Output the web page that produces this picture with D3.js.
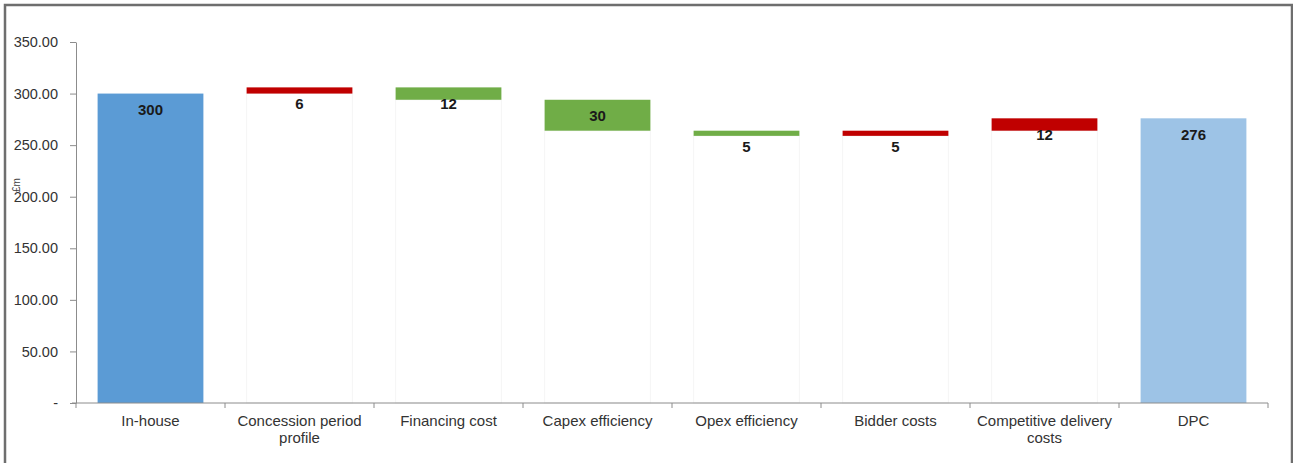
<!DOCTYPE html>
<html>
<head>
<meta charset="utf-8">
<script src="https://cdn.jsdelivr.net/npm/d3@7"></script>
<style>
  body { margin: 0; background: #fff; }
  svg { display: block; font-family: "Liberation Sans", Arial, sans-serif; }
  .eje path, .eje line { stroke: #8c8c8c; }
  .eje text { fill: #333; font-size: 14.5px; }
</style>
</head>
<body>
<div id="graf"></div>
<script>
// datos
categorias = ['In-house', 'Concession period profile', 'Financing cost', 'Capex efficiency',
              'Opex efficiency', 'Bidder costs', 'Competitive delivery costs', 'DPC']
etiquetas = [['In-house'], ['Concession period', 'profile'], ['Financing cost'], ['Capex efficiency'],
             ['Opex efficiency'], ['Bidder costs'], ['Competitive delivery', 'costs'], ['DPC']]
// cambio de cada paso (total en extremos)
valores = [300, 6, -12, -30, -5, 5, 12, 276]
tipos = ['total', 'delta', 'delta', 'delta', 'delta', 'delta', 'delta', 'final']
yTicks = [0, 50, 100, 150, 200, 250, 300, 350]

colores = { total: '#5b9bd5', final: '#9dc3e6', sube: '#c00000', baja: '#70ad47' }

ancho_total = 1293
alto_total = 463
margins = { top: 42, left: 76, right: 25, bottom: 60 }
ancho = ancho_total - margins.left - margins.right
alto = alto_total - margins.top - margins.bottom

svg = d3.select('#graf').append('svg')
        .attr('width', ancho_total)
        .attr('height', alto_total)

// marco
svg.append('rect')
   .attr('x', 5).attr('y', 5)
   .attr('width', 1287).attr('height', 470)
   .attr('fill', 'none')
   .attr('stroke', '#6e6e6e')
   .attr('stroke-width', 2.5)

g = svg.append('g')
       .attr('transform', `translate(${margins.left}, ${margins.top})`)

y = d3.scaleLinear().domain([0, 350]).range([alto, 0])
x = d3.scaleBand().domain(categorias).range([0, ancho])
      .paddingInner(0.29).paddingOuter(0.145)

// construir escalones
acumulado = 0
datos = categorias.map((c, i) => {
  let v = valores[i], d
  if (tipos[i] !== 'delta') {
    d = { c, y0: 0, y1: v, color: colores[tipos[i]], label: v }
    acumulado = v
  } else {
    let a = acumulado, b = acumulado + v
    d = { c, y0: Math.min(a, b), y1: Math.max(a, b), color: v > 0 ? colores.sube : colores.baja, label: Math.abs(v) }
    acumulado = b
  }
  return d
})

// barras base invisibles (bordes tenues)
g.selectAll('rect.base')
 .data(datos.filter(d => d.y0 > 0))
 .enter().append('rect')
   .attr('class', 'base')
   .attr('x', d => x(d.c))
   .attr('width', x.bandwidth())
   .attr('y', d => y(d.y0))
   .attr('height', d => y(0) - y(d.y0))
   .attr('fill', '#fff')
   .attr('stroke', '#f5f5f5')

g.selectAll('rect.barra')
 .data(datos)
 .enter().append('rect')
   .attr('class', 'barra')
   .attr('x', d => x(d.c))
   .attr('width', x.bandwidth())
   .attr('y', d => y(d.y1))
   .attr('height', d => y(d.y0) - y(d.y1))
   .attr('fill', d => d.color)

g.selectAll('text.valor')
 .data(datos)
 .enter().append('text')
   .attr('class', 'valor')
   .attr('x', d => x(d.c) + x.bandwidth() / 2)
   .attr('y', d => y(d.y1) + 16)
   .attr('dy', '0.35em')
   .attr('text-anchor', 'middle')
   .style('font-size', '15px')
   .style('font-weight', 'bold')
   .style('fill', '#1a1a1a')
   .text(d => d.label)

// ejes
yAxisGroup = g.append('g').attr('class', 'eje')
yAxisGroup.call(d3.axisLeft(y).tickValues(yTicks).tickSize(6).tickSizeOuter(0)
          .tickFormat(d => d === 0 ? '-' : d3.format('.2f')(d)))
yAxisGroup.selectAll('text').attr('x', -18)

xAxisGroup = g.append('g').attr('class', 'eje')
              .attr('transform', `translate(0, ${alto})`)
xAxisGroup.call(d3.axisBottom(x).tickSize(0).tickSizeOuter(0))
xAxisGroup.select('path').attr('d', `M-4,0H${ancho}`)
xAxisGroup.selectAll('text').remove()

// marcas entre categorias
bordes = categorias.map((c, i) => i * x.step()).concat([ancho])
xAxisGroup.selectAll('line.marca')
  .data(bordes)
  .enter().append('line')
    .attr('class', 'marca')
    .attr('x1', d => d).attr('x2', d => d)
    .attr('y1', 0).attr('y2', 5)

// etiquetas en varias lineas
xAxisGroup.selectAll('text.cat')
  .data(categorias)
  .enter().append('text')
    .attr('class', 'cat')
    .attr('text-anchor', 'middle')
    .attr('transform', d => `translate(${x(d) + x.bandwidth() / 2}, 23)`)
    .style('font-size', '15px')
    .each(function(d, i) {
      d3.select(this).selectAll('tspan')
        .data(etiquetas[i])
        .enter().append('tspan')
          .attr('x', 0)
          .attr('dy', (t, j) => j === 0 ? 0 : 17)
          .text(t => t)
    })

// titulo eje y
svg.append('text')
   .attr('transform', 'translate(20, 185) rotate(-90)')
   .attr('text-anchor', 'middle')
   .style('font-size', '10px')
   .style('fill', '#404040')
   .text('£m')
</script>
</body>
</html>
